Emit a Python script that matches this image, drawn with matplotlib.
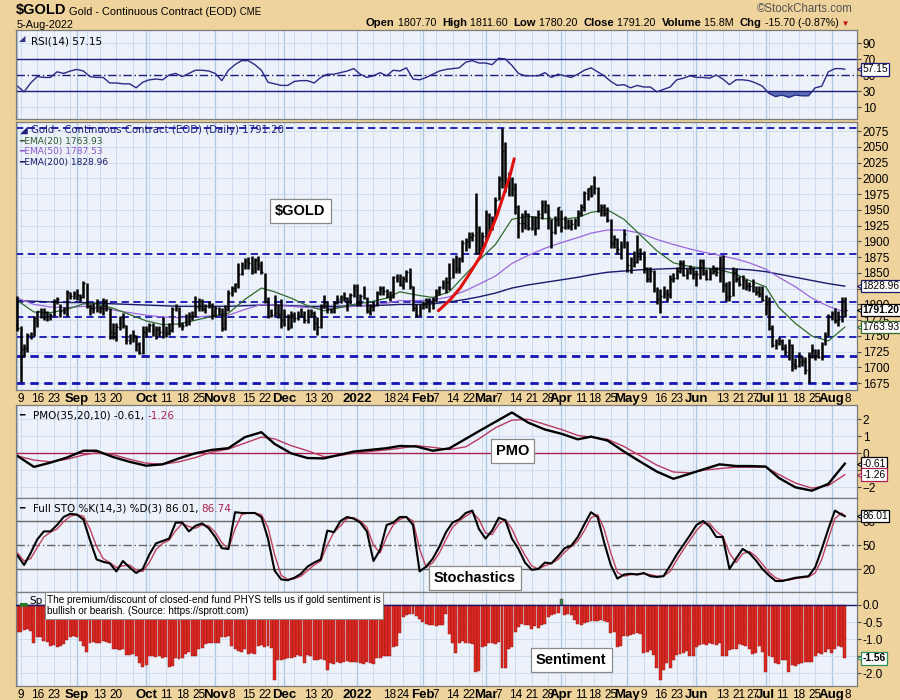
import numpy as np
import pandas as pd
import matplotlib
matplotlib.use("Agg")
import matplotlib.pyplot as plt

plt.rcParams['font.family'] = ['Liberation Sans', 'DejaVu Sans']

# trading calendar: Aug 6 2021 .. Aug 5 2022, first bar sits at position -1
holidays = ["2021-09-06", "2021-11-25", "2021-12-24", "2022-01-17", "2022-02-21",
            "2022-04-15", "2022-05-30", "2022-06-20", "2022-07-04"]
trade_days = pd.bdate_range("2021-08-06", "2022-08-05")
trade_days = trade_days[~trade_days.isin(pd.to_datetime(holidays))]

# daily bars, one line per week
highs = [1813,
    1766, 1738, 1755, 1757, 1782,  1790, 1795, 1795, 1790, 1787,
    1808, 1811, 1800, 1796, 1823,  1820, 1821, 1825, 1816, 1837,
    1834, 1800, 1803, 1809,        1799, 1810, 1808, 1795, 1770,
    1770, 1782, 1787, 1768, 1753,  1760, 1752, 1740, 1766, 1766,
    1771, 1770, 1765, 1765, 1780,  1765, 1770, 1796, 1800, 1796,
    1772, 1785, 1788, 1790, 1813,  1810, 1809, 1800, 1805, 1803,
    1797, 1796, 1795, 1799, 1823,  1829, 1834, 1866, 1868, 1873,
    1876, 1877, 1873, 1877, 1869,  1850, 1811, 1793, 1815,
    1800, 1808, 1793, 1785, 1789,  1788, 1790, 1795, 1790, 1792,
    1792, 1789, 1780, 1800, 1815,  1805, 1795, 1806, 1815,
    1815, 1820, 1812, 1818, 1832,  1832, 1816, 1830, 1812, 1800,
    1805, 1822, 1830, 1830, 1825,  1822, 1845, 1848, 1848,
    1845, 1855, 1858, 1830, 1800,  1800, 1805, 1810, 1810, 1812,
    1824, 1830, 1838, 1843, 1865,  1874, 1878, 1875, 1902, 1905,
    1915, 1915, 1976, 1925,        1915, 1950, 1945, 1940, 1970,
    2003, 2079, 2058, 2010, 2002,  1993, 1957, 1945, 1950, 1945,
    1940, 1940, 1950, 1965, 1966,  1960, 1935, 1940, 1955, 1950,
    1940, 1935, 1935, 1937, 1950,  1960, 1980, 1985, 1990,
    2004, 1986, 1960, 1960, 1955,  1935, 1910, 1905, 1900, 1920,
    1900, 1876, 1885, 1910, 1890,  1885, 1860, 1860, 1855, 1828,
    1825, 1830, 1825, 1846, 1850,  1860, 1870, 1870, 1857, 1862,
    1860, 1855, 1872, 1872,        1856, 1858, 1862, 1860, 1877,
    1879, 1835, 1837, 1860, 1858,  1845, 1846, 1840, 1836,
    1840, 1830, 1830, 1830, 1815,  1812, 1768, 1745, 1749,
    1745, 1738, 1745, 1737, 1715,  1725, 1718, 1716, 1725, 1738,
    1730, 1730, 1740, 1756, 1785,  1790, 1795, 1790, 1812, 1811.6]
lows = [1758,
    1677, 1717, 1725, 1745, 1750,  1764, 1778, 1775, 1773, 1776,
    1781, 1800, 1780, 1785, 1781,  1808, 1808, 1807, 1806, 1810,
    1794, 1783, 1787, 1788,        1786, 1783, 1790, 1745, 1745,
    1742, 1760, 1763, 1738, 1738,  1740, 1726, 1721, 1721, 1748,
    1756, 1750, 1745, 1750, 1747,  1748, 1752, 1757, 1790, 1764,
    1760, 1765, 1768, 1776, 1780,  1790, 1789, 1787, 1794, 1777,
    1780, 1783, 1758, 1760, 1790,  1814, 1820, 1826, 1847, 1856,
    1856, 1849, 1850, 1855, 1849,  1802, 1778, 1780, 1782,
    1778, 1762, 1765, 1760, 1762,  1772, 1775, 1780, 1771, 1770,
    1780, 1760, 1752, 1762, 1795,  1786, 1786, 1786, 1801,
    1803, 1805, 1790, 1800, 1812,  1797, 1797, 1808, 1786, 1783,
    1790, 1797, 1815, 1815, 1810,  1805, 1810, 1836, 1830,
    1825, 1835, 1825, 1790, 1780,  1781, 1792, 1795, 1788, 1792,
    1804, 1815, 1824, 1818, 1823,  1842, 1850, 1850, 1868, 1885,
    1890, 1900, 1880, 1880,        1885, 1900, 1915, 1918, 1935,
    1966, 1985, 1978, 1972, 1972,  1944, 1906, 1915, 1920, 1918,
    1918, 1910, 1920, 1935, 1945,  1920, 1890, 1912, 1925, 1915,
    1920, 1920, 1918, 1920, 1925,  1940, 1948, 1965, 1970,
    1975, 1946, 1940, 1940, 1930,  1890, 1890, 1880, 1872, 1890,
    1852, 1850, 1860, 1865, 1870,  1850, 1835, 1835, 1820, 1800,
    1786, 1810, 1805, 1810, 1835,  1840, 1850, 1845, 1840, 1848,
    1840, 1830, 1840, 1846,        1838, 1838, 1848, 1845, 1835,
    1820, 1806, 1805, 1813, 1835,  1830, 1825, 1823, 1822,
    1820, 1815, 1812, 1805, 1783,  1760, 1732, 1730, 1735,
    1728, 1720, 1712, 1695, 1697,  1700, 1703, 1690, 1675, 1715,
    1712, 1715, 1712, 1735, 1750,  1775, 1770, 1765, 1772, 1780.2]
closes = [1763,
    1729, 1731, 1752, 1753, 1779,  1789, 1787, 1788, 1781, 1784,
    1806, 1808, 1790, 1794, 1819,  1813, 1818, 1815, 1812, 1834,
    1797, 1794, 1795, 1792,        1795, 1806, 1794, 1756, 1754,
    1764, 1778, 1768, 1743, 1751,  1752, 1737, 1723, 1757, 1761,
    1767, 1760, 1761, 1756, 1757,  1754, 1760, 1793, 1797, 1767,
    1765, 1769, 1782, 1782, 1796,  1806, 1793, 1797, 1799, 1783,
    1795, 1789, 1763, 1793, 1818,  1826, 1832, 1849, 1863, 1869,
    1866, 1853, 1870, 1862, 1852,  1805, 1782, 1784, 1788,
    1785, 1776, 1782, 1762, 1783,  1779, 1784, 1782, 1775, 1782,
    1787, 1770, 1764, 1798, 1804,  1792, 1790, 1802, 1808,
    1811, 1810, 1805, 1815, 1828,  1800, 1814, 1810, 1789, 1797,
    1798, 1818, 1826, 1822, 1816,  1812, 1843, 1842, 1831,
    1841, 1852, 1829, 1794, 1784,  1795, 1801, 1807, 1804, 1807,
    1820, 1827, 1834, 1836, 1842,  1869, 1856, 1872, 1898, 1900,
    1907, 1910, 1926, 1889,        1908, 1944, 1922, 1936, 1966,
    1999, 2043, 1988, 2000, 1985,  1954, 1929, 1929, 1943, 1921,
    1929, 1921, 1944, 1958, 1958,  1939, 1915, 1934, 1954, 1923,
    1932, 1924, 1928, 1932, 1945,  1955, 1976, 1984, 1974,
    1985, 1951, 1954, 1945, 1934,  1897, 1903, 1888, 1892, 1911,
    1863, 1871, 1868, 1877, 1882,  1858, 1841, 1853, 1824, 1808,
    1814, 1818, 1816, 1841, 1842,  1853, 1866, 1846, 1851, 1857,
    1848, 1849, 1869, 1850,        1841, 1852, 1853, 1852, 1871,
    1831, 1812, 1813, 1851, 1840,  1832, 1838, 1830, 1829,
    1822, 1820, 1817, 1807, 1801,  1763, 1736, 1739, 1742,
    1731, 1725, 1735, 1705, 1703,  1709, 1711, 1696, 1719, 1727,
    1719, 1717, 1719, 1750, 1781,  1787, 1776, 1777, 1807, 1791.2]

# weekly readings of the moving averages (one per week end)
ema20 = [1806, 1788, 1787, 1792, 1801, 1801, 1794, 1784, 1774, 1768, 1769, 1775, 1781,
         1786, 1808, 1826, 1820, 1810, 1798, 1790, 1794, 1800, 1804, 1810, 1820, 1815,
         1811, 1820, 1848, 1870, 1895, 1935, 1940, 1936, 1935, 1938, 1946, 1950, 1935,
         1910, 1885, 1866, 1860, 1858, 1855, 1848, 1838, 1828, 1795, 1770, 1750, 1742, 1764]
ema50 = [1810, 1800, 1796, 1795, 1797, 1796, 1791, 1787, 1783, 1780, 1779, 1780, 1782,
         1783, 1792, 1800, 1799, 1797, 1795, 1794, 1795, 1797, 1799, 1802, 1806, 1806,
         1807, 1812, 1822, 1832, 1845, 1865, 1878, 1889, 1898, 1906, 1913, 1918, 1918,
         1913, 1903, 1895, 1888, 1883, 1878, 1872, 1866, 1856, 1843, 1828, 1810, 1797, 1788]
ema200 = [1806, 1805, 1804, 1803, 1803, 1802, 1801, 1800, 1799, 1798, 1797, 1797, 1797,
          1797, 1798, 1799, 1799, 1798, 1797, 1797, 1797, 1798, 1798, 1799, 1800, 1800,
          1801, 1804, 1808, 1812, 1818, 1826, 1831, 1835, 1839, 1843, 1847, 1851, 1853,
          1855, 1856, 1857, 1857, 1857, 1857, 1856, 1855, 1852, 1848, 1843, 1838, 1833, 1829]

pmo = [-0.16, -0.8, -0.55, -0.25, 0.15, 0.15, -0.22, -0.5, -0.73, -0.65, -0.3, 0.0, 0.2,
       0.3, 0.95, 1.24, 0.55, 0.0, -0.28, -0.3, -0.12, 0.1, 0.2, 0.3, 0.43, 0.4,
       0.15, 0.29, 0.85, 1.3, 1.85, 2.4, 1.8, 1.4, 1.15, 0.82, 0.98, 0.75, 0.1,
       -0.5, -1.08, -1.5, -1.2, -0.95, -0.65, -0.75, -0.75, -0.78, -1.45, -2.0, -2.2, -1.8, -0.61]
pmo_signal = [-0.16, -0.4, -0.5, -0.35, -0.1, 0.03, -0.08, -0.35, -0.58, -0.65, -0.5, -0.25, 0.07,
              0.25, 0.6, 0.95, 0.85, 0.45, 0.15, -0.2, -0.15, 0.0, 0.1, 0.2, 0.29, 0.45,
              0.35, 0.22, 0.38, 0.85, 1.5, 1.95, 2.0, 1.7, 1.4, 1.05, 0.95, 0.82, 0.4,
              -0.15, -0.7, -1.1, -1.15, -1.0, -0.9, -0.82, -0.82, -0.82, -1.25, -1.75, -2.05, -1.9, -1.26]

# every second trading day, plus the last bar
rsi = [36, 29, 40, 48, 47, 47, 54, 52, 55, 57, 55, 48, 47, 47, 40, 40, 39, 39, 34, 41,
       44, 45, 44, 50, 52, 48, 52, 56, 56, 55, 52, 43, 56, 63, 68, 68, 63, 56, 41, 39,
       37, 37, 42, 43, 43, 40, 47, 51, 51, 53, 55, 58, 51, 47, 49, 53, 49, 56, 55, 59,
       45, 44, 47, 51, 55, 57, 58, 59, 66, 68, 65, 65, 63, 71, 70, 62, 52, 49, 49, 49,
       53, 47, 51, 49, 47, 51, 56, 59, 54, 49, 42, 37, 38, 34, 37, 35, 35, 29, 32, 35,
       44, 46, 49, 47, 47, 46, 50, 45, 38, 44, 44, 43, 40, 36, 27, 23, 25, 22, 25, 24,
       24, 34, 36, 54, 58, 58, 57.15]
sto_k = [37, 25, 40, 57, 67, 67, 75, 85, 89, 88, 82, 56, 32, 29, 27, 17, 30, 22, 15, 20,
         38, 52, 55, 58, 78, 78, 67, 74, 77, 71, 60, 46, 45, 91, 90, 90, 90, 85, 58, 18,
         7, 6, 9, 14, 23, 28, 32, 68, 66, 80, 85, 83, 78, 67, 30, 44, 75, 78, 85, 85,
         75, 17, 23, 33, 48, 66, 78, 82, 90, 93, 70, 58, 68, 84, 81, 58, 45, 28, 19, 20,
         28, 27, 36, 46, 49, 60, 76, 91, 85, 53, 25, 8, 13, 14, 13, 15, 11, 10, 11, 24,
         38, 50, 62, 75, 80, 73, 60, 60, 20, 33, 45, 40, 31, 20, 12, 5, 5, 7, 9, 10,
         11, 22, 45, 70, 93, 88, 86.01]
sto_d = [40, 30, 33, 47, 60, 66, 70, 79, 86, 88, 86, 70, 48, 33, 28, 22, 24, 25, 19, 17,
         28, 44, 52, 56, 68, 77, 73, 71, 75, 74, 66, 53, 45, 70, 88, 90, 90, 88, 72, 38,
         12, 7, 8, 11, 18, 25, 30, 50, 66, 74, 83, 84, 80, 72, 50, 40, 60, 75, 82, 85,
         80, 45, 22, 28, 40, 57, 72, 80, 86, 91, 82, 65, 63, 76, 82, 70, 52, 37, 24, 20,
         24, 27, 32, 41, 48, 55, 68, 84, 88, 70, 40, 16, 11, 13, 14, 14, 13, 11, 11, 17,
         31, 44, 56, 68, 77, 77, 67, 61, 40, 28, 39, 42, 36, 26, 16, 9, 6, 6, 8, 9,
         10, 15, 32, 58, 83, 90, 86.74]

# PHYS premium/discount, daily, one line per week
sentiment = [-0.78,
    -0.78, -0.73, -0.70, -0.75, -1.12,  -0.93, -0.95, -1.05, -1.07, -1.20,
    -1.18, -1.22, -1.20, -1.15, -1.02,  -0.93, -0.90, -0.95, -1.05, -1.20,
    -1.37, -1.12, -1.08, -1.10,         -1.12, -1.05, -1.07, -1.10, -1.30,
    -1.28, -1.32, -1.30, -1.45, -1.46,  -1.44, -1.48, -1.70, -1.80, -1.76,
    -1.50, -1.48, -1.52, -1.50, -1.55,  -1.52, -1.80, -1.78, -1.56, -1.58,
    -1.55, -1.42, -1.38, -1.50, -1.48,  -1.30, -1.25, -1.15, -1.10, -1.12,
    -1.12, -1.10, -0.93, -0.95, -0.92,  -1.20, -1.28, -1.35, -1.37, -1.30,
    -1.42, -1.40, -1.42, -1.20, -1.18,  -1.22, -1.20, -1.25, -2.19,
    -1.60, -1.62, -1.58, -1.55, -1.56,  -1.52, -1.46, -1.48, -1.70, -1.45,
    -1.50, -1.60, -1.62, -1.58, -1.60,  -1.90, -1.70, -1.72, -1.68,
    -1.70, -1.66, -1.64, -1.66, -1.68,  -1.66, -1.70, -1.72, -1.68, -1.70,
    -1.74, -1.56, -1.55, -1.50, -1.48,  -1.50, -1.22, -1.20, -0.83,
    -0.35, -0.30, -0.27, -0.25, -0.32,  -0.42, -0.50, -0.55, -0.58, -0.60,
    -0.62, -0.58, -0.60, -0.26, -0.85,  -1.10, -1.40, -1.10, -1.05, -1.12,
    -1.10, -1.15, -1.95, -1.93,         -1.22, -1.20, -1.12, -1.10, -1.15,
    -1.08, -1.85, -1.85, -1.28, -1.22,  -0.80, -0.65, -0.55, -0.60, -0.58,
    -0.70, -0.62, -0.68, -0.60, -0.55,  -0.34, -0.30, -0.26, -0.24, 0.17,
    -0.28, -0.25, -0.30, -0.45, -0.55,  -0.60, -0.52, -0.50, -0.48,
    -0.46, -0.48, -0.45, -0.47, -0.50,  -0.82, -0.80, -1.22, -1.20, -0.90,
    -0.92, -0.88, -0.85, -0.83, -0.86,  -1.40, -1.38, -1.32, -1.46, -1.85,
    -2.19, -1.90, -1.70, -1.85, -1.60,  -1.45, -1.42, -1.40, -1.35, -1.50,
    -1.50, -1.22, -1.18, -1.15,         -1.17, -1.12, -1.15, -1.18, -1.10,
    -1.50, -1.48, -1.32, -1.30, -1.28,  -1.15, -1.17, -1.20, -1.30,
    -1.42, -1.40, -1.20, -1.38, -1.97,  -1.50, -1.52, -1.70, -1.72,
    -1.60, -1.62, -1.97, -1.75, -1.78,  -1.72, -1.70, -1.68, -1.66, -1.66,
    -1.50, -1.40, -1.42, -1.38, -1.30,  -1.40, -1.28, -1.20, -1.22, -1.56]

# hand-drawn parabolic trend line on the price panel (bar position, price)
rally_pos = [126.7, 130.2, 133.3, 136.3, 139.4, 141.9, 144.4, 146.4, 148.5, 149.7]
rally_px = [1790, 1807, 1826, 1850, 1876, 1908, 1940, 1972, 2006, 2031]

support_lines = [2080, 1880, 1804, 1780, 1749]
heavy_lines = [1719, 1675]

date_ticks = [("2021-08-09", "9"), ("2021-08-16", "16"), ("2021-08-23", "23"), ("2021-09-01", "Sep"),
              ("2021-09-13", "13"), ("2021-09-20", "20"), ("2021-10-01", "Oct"), ("2021-10-11", "11"),
              ("2021-10-18", "18"), ("2021-10-25", "25"), ("2021-11-01", "Nov"), ("2021-11-08", "8"),
              ("2021-11-15", "15"), ("2021-11-22", "22"), ("2021-12-01", "Dec"), ("2021-12-13", "13"),
              ("2021-12-20", "20"), ("2022-01-03", "2022"), ("2022-01-18", "18"), ("2022-01-24", "24"),
              ("2022-02-01", "Feb"), ("2022-02-07", "7"), ("2022-02-14", "14"), ("2022-02-22", "22"),
              ("2022-03-01", "Mar"), ("2022-03-07", "7"), ("2022-03-14", "14"), ("2022-03-21", "21"),
              ("2022-03-28", "28"), ("2022-04-01", "Apr"), ("2022-04-11", "11"), ("2022-04-18", "18"),
              ("2022-04-25", "25"), ("2022-05-02", "May"), ("2022-05-09", "9"), ("2022-05-16", "16"),
              ("2022-05-23", "23"), ("2022-06-01", "Jun"), ("2022-06-13", "13"), ("2022-06-21", "21"),
              ("2022-06-27", "27"), ("2022-07-01", "Jul"), ("2022-07-11", "11"), ("2022-07-18", "18"),
              ("2022-07-25", "25"), ("2022-08-01", "Aug"), ("2022-08-08", "8")]

assert len(highs) == len(lows) == len(closes) == len(sentiment) == len(trade_days)

# ---- positions ----
day_pos = np.arange(len(trade_days)) - 1
wd = trade_days.weekday.values
week_end = day_pos[np.r_[wd[1:] <= wd[:-1], True]]
week_start = day_pos[np.r_[True, wd[1:] <= wd[:-1]]]
mo = trade_days.month.values
month_start = day_pos[np.r_[True, mo[1:] != mo[:-1]]]
osc_pos = np.r_[np.arange(-1, 250, 2), 250]


def date_pos(d):
    d = pd.Timestamp(d)
    if d > trade_days[-1]:
        return day_pos[-1] + 1
    return trade_days.get_loc(d) - 1


tick_pos = [date_pos(d) for d, _ in date_ticks]
tick_lab = [s for _, s in date_ticks]
bold_labels = {"Sep", "Oct", "Nov", "Dec", "2022", "Feb", "Mar", "Apr", "May", "Jun", "Jul", "Aug"}

TAN = "#efd39c"
BG = "#edf1f9"
GRID = "#cddbee"
MGRID = "#a9c8e4"

fig = plt.figure(figsize=(9, 7), dpi=100)
fig.patch.set_facecolor(TAN)


def panel(top, bottom):
    ax = fig.add_axes([16 / 900, 1 - bottom / 700, 841 / 900, (bottom - top) / 700])
    ax.set_facecolor(BG)
    ax.set_xlim(-1.45, 253.7)
    for s in ax.spines.values():
        s.set_color("#7a7a7a")
        s.set_linewidth(0.9)
    for p in week_start:
        ax.axvline(p, color=GRID, lw=0.7, zorder=0)
    for p in month_start:
        ax.axvline(p, color=MGRID, lw=0.9, zorder=0)
    ax.yaxis.tick_right()
    ax.tick_params(axis="y", labelsize=8.5, length=3, pad=1, color="#444444")
    ax.tick_params(axis="x", length=0)
    ax.set_xticks([])
    return ax


ax_rsi = panel(30, 119)
ax_px = panel(122, 390)
ax_pmo = panel(405, 498)
ax_sto = panel(498, 592)
ax_sen = panel(592, 686)


def tag(ax, y, s, ec, bold=False):
    tr = ax.get_yaxis_transform()
    ax.plot([1.0035], [y], marker="<", ms=5, mfc="white", mec=ec, mew=0.8, transform=tr,
            clip_on=False, zorder=19)
    ax.text(1.0065, y, s, transform=tr, va="center", ha="left",
            fontsize=7.4, fontweight="bold" if bold else "normal", zorder=20, clip_on=False,
            bbox=dict(boxstyle="square,pad=0.12", fc="white", ec=ec, lw=0.9))


def label_box(x, y, s):
    fig.text(x / 900, 1 - y / 700, s, fontsize=10.5, fontweight="bold", va="center", ha="left",
             bbox=dict(boxstyle="square,pad=0.35", fc="white", ec="#8a8a8a", lw=0.9), zorder=30)


def chain(ax, x, y, pieces, size=7.5):
    # consecutive text pieces in different colours, left to right
    s, color = pieces[0]
    t = ax.text(x, y, s, transform=ax.transAxes, fontsize=size, family="DejaVu Sans",
                color=color, va="top")
    for s, color in pieces[1:]:
        t = ax.annotate(s, xy=(1, 0), xycoords=t, fontsize=size, family="DejaVu Sans",
                        color=color, va="bottom", ha="left", annotation_clip=False)
    return t


# ---- RSI ----
rsi_a = np.array(rsi, dtype=float)
ax_rsi.set_ylim(-5, 106.3)
ax_rsi.set_yticks([10, 30, 50, 70, 90])
for v in [10, 90]:
    ax_rsi.axhline(v, color=GRID, lw=0.7, zorder=0)
ax_rsi.axhline(70, color="#1c1c78", lw=1)
ax_rsi.axhline(30, color="#1c1c78", lw=1)
ax_rsi.axhline(50, color="#1c1c78", lw=1, ls=(0, (6, 2, 1, 2)))
ax_rsi.fill_between(osc_pos, rsi_a, 30, where=rsi_a < 30, interpolate=True, color="#5b6fb5", lw=0)
ax_rsi.fill_between(osc_pos, rsi_a, 70, where=rsi_a > 70, interpolate=True, color="#5b6fb5", lw=0)
ax_rsi.plot(osc_pos, rsi_a, color="#2a2a86", lw=1)
ax_rsi.text(0.004, 0.93, "\u25e2", transform=ax_rsi.transAxes, fontsize=6, color="#333388", va="top")
chain(ax_rsi, 0.018, 0.93, [("RSI(14) 57.15", "black")])
tag(ax_rsi, 57.15, "57.15", "#1c1c78")

# ---- price ----
ax_px.set_ylim(1664.3, 2089.3)
ax_px.set_yticks(np.arange(1675, 2076, 25))
for v in np.arange(1675, 2076, 25):
    ax_px.axhline(v, color=GRID, lw=0.6, zorder=0)
for v in support_lines:
    ax_px.axhline(v, color="#1414b4", lw=1.3, ls=(0, (4, 2.5)), zorder=1)
for v in heavy_lines:
    ax_px.axhline(v, color="#1414b4", lw=2.0, ls=(0, (3, 2)), zorder=1)
ax_px.plot(week_end, ema200, color="#1a1a6a", lw=1.0, zorder=2)
ax_px.plot(week_end, ema50, color="#9a66dd", lw=0.9, zorder=2)
ax_px.plot(week_end, ema20, color="#2f6a2f", lw=0.9, zorder=2)
ax_px.vlines(day_pos, lows, highs, color="black", lw=1.8, zorder=3)
ax_px.hlines(closes, day_pos, day_pos + 0.55, color="black", lw=1.0, zorder=3)
ax_px.plot(rally_pos, rally_px, color="#e01010", lw=2.2, zorder=4, solid_capstyle="round")
ax_px.text(0.005, 0.988, "\u25e2 Gold - Continuous Contract (EOD) (Daily) 1791.20", transform=ax_px.transAxes,
           fontsize=7.3, family="DejaVu Sans", color="#20207a", va="top", zorder=5)
for i, (s, c) in enumerate([("\u2501EMA(20) 1763.93", "#2f5a2f"), ("\u2501EMA(50) 1787.53", "#8a55d0"),
                            ("\u2501EMA(200) 1828.96", "#1a1a6a")]):
    ax_px.text(0.004, 0.945 - i * 0.04, s, transform=ax_px.transAxes, fontsize=6.5,
               family="DejaVu Sans", color=c, va="top")
tag(ax_px, 1828.96, "1828.96", "#1a1a6a")
tag(ax_px, 1791.20, "1791.20", "black", bold=True)
tag(ax_px, 1763.93, "1763.93", "#2f6a2f")
ax_px.set_xticks(tick_pos)
ax_px.set_xticklabels(tick_lab)
ax_px.tick_params(axis="x", labelsize=8.5, pad=2)

# ---- PMO ----
ax_pmo.set_ylim(-2.63, 2.84)
ax_pmo.set_yticks([-2, -1, 0, 1, 2])
for v in [-2, -1, 1, 2]:
    ax_pmo.axhline(v, color=GRID, lw=0.6, zorder=0)
ax_pmo.axhline(0, color="#a8204e", lw=1)
ax_pmo.plot(week_end, pmo_signal, color="#b83a62", lw=1)
ax_pmo.plot(week_end, pmo, color="black", lw=1.7)
ax_pmo.text(0.004, 0.94, "\u2501", transform=ax_pmo.transAxes, fontsize=6.5, va="top")
chain(ax_pmo, 0.02, 0.94, [("PMO(35,20,10) -0.61, ", "black"), ("-1.26", "#a8204e")])
tag(ax_pmo, -0.61, "-0.61", "black")
tag(ax_pmo, -1.26, "-1.26", "#a8204e")
label_box(496, 451, "PMO")

# ---- stochastics ----
ax_sto.set_ylim(-8.75, 108.75)
ax_sto.set_yticks([20, 50, 80])
ax_sto.axhline(80, color="#666666", lw=1)
ax_sto.axhline(20, color="#666666", lw=1)
ax_sto.axhline(50, color="#666666", lw=1, ls=(0, (6, 2, 1, 2)))
ax_sto.plot(osc_pos, sto_d, color="#c0405e", lw=1)
ax_sto.plot(osc_pos, sto_k, color="black", lw=1.5)
ax_sto.text(0.004, 0.94, "\u2501", transform=ax_sto.transAxes, fontsize=6.5, va="top")
chain(ax_sto, 0.02, 0.94, [("Full STO %K(14,3) %D(3) 86.01, ", "black"), ("86.74", "#a8204e")])
tag(ax_sto, 86.01, "86.01", "black")
label_box(434, 578, "Stochastics")

# ---- sentiment ----
sen_a = np.array(sentiment)
ax_sen.set_ylim(-2.37, 0.38)
ax_sen.set_yticks([0, -0.5, -1.0, -1.5, -2.0])
ax_sen.set_yticklabels(["0.0", "-0.5", "-1.0", "-1.5", "-2.0"])
for v in [-0.5, -1.0, -1.5, -2.0]:
    ax_sen.axhline(v, color=GRID, lw=0.6, zorder=0)
ax_sen.bar(day_pos, sen_a, width=0.9, color=np.where(sen_a >= 0, "#2e8b57", "#dd2a22"),
           edgecolor="#8a1010", lw=0.3, zorder=2)
ax_sen.axhline(0, color="#1a1a6a", lw=1, zorder=3)
ax_sen.text(0.004, 0.96, "\u2583", transform=ax_sen.transAxes, fontsize=7, color="#2a7a2a", va="top")
ax_sen.text(0.016, 0.96, "Sp", transform=ax_sen.transAxes, fontsize=7.5, family="DejaVu Sans", va="top")
fig.text(47 / 900, 1 - 605.5 / 700,
         "The premium/discount of closed-end fund PHYS tells us if gold sentiment is\n"
         "bullish or bearish. (Source: https://sprott.com)",
         fontsize=7.2, va="center", ha="left", linespacing=1.2, zorder=30,
         bbox=dict(boxstyle="square,pad=0.25", fc="white", ec="#8a8a8a", lw=0.8))
tag(ax_sen, -1.56, "-1.56", "#2e8b57", bold=True)
label_box(536, 660, "Sentiment")
ax_sen.set_xticks(tick_pos)
ax_sen.set_xticklabels(tick_lab)
ax_sen.tick_params(axis="x", labelsize=8.5, pad=2)

for ax in (ax_px, ax_sen):
    for t in ax.get_xticklabels():
        if t.get_text() in bold_labels:
            t.set_fontweight("bold")
            t.set_fontsize(9.5)

label_box(275, 211, "$GOLD")


# ---- header ----
def text_run(x, y, pieces):
    s, size, weight, color = pieces[0]
    t = fig.text(x / 900, 1 - y / 700, s, fontsize=size, fontweight=weight, color=color, va="bottom")
    for s, size, weight, color in pieces[1:]:
        t = ax_rsi.annotate(s, xy=(1, 0), xycoords=t, fontsize=size, fontweight=weight, color=color,
                            va="bottom", ha="left", annotation_clip=False)
    return t


text_run(16, 17, [("$GOLD", 10.5, "bold", "black"),
                  (" Gold - Continuous Contract (EOD)", 7.9, "normal", "black"),
                  (" CME", 7.0, "normal", "black")])
fig.text(17 / 900, 1 - 24.5 / 700, "5-Aug-2022", fontsize=7.8, va="center")
fig.text(853 / 900, 1 - 9 / 700, "\u00a9StockCharts.com", fontsize=8.3, color="#555555",
         va="center", ha="right")
text_run(366, 28, [("Open", 8.1, "bold", "black"), (" 1807.70  ", 7.7, "normal", "black"),
                   ("High", 8.1, "bold", "black"), (" 1811.60  ", 7.7, "normal", "black"),
                   ("Low", 8.1, "bold", "black"), (" 1780.20  ", 7.7, "normal", "black"),
                   ("Close", 8.1, "bold", "black"), (" 1791.20  ", 7.7, "normal", "black"),
                   ("Volume", 8.1, "bold", "black"), (" 15.8M  ", 7.7, "normal", "black"),
                   ("Chg", 8.1, "bold", "black"), (" -15.70 (-0.87%)", 7.7, "normal", "black"),
                   (" \u25bc", 6.0, "normal", "#cc1111")])

fig.savefig("out.png", dpi=100, facecolor=TAN)
